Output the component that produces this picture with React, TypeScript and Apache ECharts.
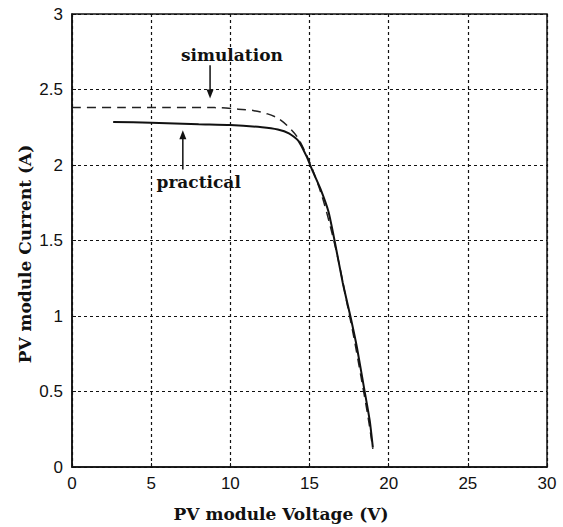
import React, { useEffect, useRef } from "react";
import * as echarts from "echarts";

// I–V characteristic of the PV module
const simVoltage = [0, 3, 6, 9, 10.5, 11.5, 12.3, 13, 13.6, 14.2, 14.8, 15.3, 15.8, 16.3, 16.8, 17.3, 17.8, 18.3, 18.7, 19.0];
const simCurrent = [2.38, 2.38, 2.38, 2.38, 2.37, 2.36, 2.34, 2.31, 2.26, 2.19, 2.07, 1.94, 1.79, 1.6, 1.38, 1.12, 0.86, 0.57, 0.33, 0.12];

const pracVoltage = [2.6, 5, 8, 10, 12, 13, 13.7, 14.3, 14.8, 15.2, 15.7, 16.2, 16.6, 17.1, 17.6, 18.0, 18.4, 18.8, 19.0];
const pracCurrent = [2.285, 2.28, 2.27, 2.265, 2.25, 2.235, 2.21, 2.16, 2.06, 1.96, 1.84, 1.69, 1.49, 1.22, 0.99, 0.79, 0.55, 0.31, 0.13];

const xTicks = [0, 5, 10, 15, 20, 25, 30];
const yTicks = [0, 0.5, 1, 1.5, 2, 2.5, 3];

// annotation anchors in data units: [x, y]
const simLabelAt = [10.1, 2.73];
const simArrow = [[8.72, 2.66], [8.72, 2.44]];
const pracLabelAt = [8.0, 1.89];
const pracArrow = [[7.0, 1.97], [7.0, 2.23]];

const serif = "'DejaVu Serif', 'Liberation Serif', serif";
const sans = "'Liberation Sans', Arial, sans-serif";

function arrowGraphics(chart: echarts.ECharts, from: number[], to: number[]) {
  const p0 = chart.convertToPixel({ gridIndex: 0 }, from) as number[];
  const p1 = chart.convertToPixel({ gridIndex: 0 }, to) as number[];
  const dir = p1[1] > p0[1] ? 1 : -1;
  const head = 9;
  return [
    {
      type: "line",
      shape: { x1: p0[0], y1: p0[1], x2: p1[0], y2: p1[1] - dir * head * 0.6 },
      style: { stroke: "#111", lineWidth: 1.5 },
      z: 10,
    },
    {
      type: "polygon",
      shape: {
        points: [
          [p1[0], p1[1]],
          [p1[0] - 3.5, p1[1] - dir * head],
          [p1[0] + 3.5, p1[1] - dir * head],
        ],
      },
      style: { fill: "#111" },
      z: 10,
    },
  ];
}

export default function App() {
  const ref = useRef<HTMLDivElement>(null);

  useEffect(() => {
    if (!ref.current) return;
    const chart = echarts.init(ref.current, undefined, { renderer: "svg" });

    const gridLine = { show: true, lineStyle: { color: "#111", type: [3, 3] as number[], width: 1.2 } };

    chart.setOption({
      animation: false,
      backgroundColor: "#fff",
      grid: { left: 72, top: 14, right: 16, bottom: 60, containLabel: false },
      xAxis: {
        type: "value",
        min: 0,
        max: 30,
        interval: 5,
        axisLine: { show: true, lineStyle: { color: "#111", width: 1.5 } },
        axisTick: { show: true, inside: true, length: 4, lineStyle: { color: "#111" } },
        axisLabel: {
          fontFamily: sans,
          fontSize: 17,
          color: "#111",
          margin: 8,
          formatter: (v: number) => (xTicks.includes(v) ? String(v) : ""),
        },
        splitLine: gridLine,
      },
      yAxis: {
        type: "value",
        min: 0,
        max: 3,
        interval: 0.5,
        axisLine: { show: true, lineStyle: { color: "#111", width: 1.5 } },
        axisTick: { show: true, inside: true, length: 4, lineStyle: { color: "#111" } },
        axisLabel: {
          fontFamily: sans,
          fontSize: 17,
          color: "#111",
          margin: 9,
          formatter: (v: number) => (yTicks.includes(v) ? String(v) : ""),
        },
        splitLine: gridLine,
      },
      series: [
        {
          name: "simulation",
          type: "line",
          smooth: 0.3,
          showSymbol: false,
          data: simVoltage.map((v, i) => [v, simCurrent[i]]),
          lineStyle: { color: "#222", width: 1.5, type: [9, 6] },
          z: 3,
        },
        {
          name: "practical",
          type: "line",
          smooth: 0.2,
          showSymbol: false,
          data: pracVoltage.map((v, i) => [v, pracCurrent[i]]),
          lineStyle: { color: "#111", width: 2 },
          z: 4,
        },
      ],
    });

    const simText = chart.convertToPixel({ gridIndex: 0 }, simLabelAt) as number[];
    const pracText = chart.convertToPixel({ gridIndex: 0 }, pracLabelAt) as number[];
    const titleFont = `bold 17px ${serif}`;

    chart.setOption({
      graphic: [
        // outer frame of the plotting area
        {
          type: "rect",
          shape: { x: 72, y: 14, width: 475, height: 453 },
          style: { fill: "none", stroke: "#111", lineWidth: 1.5 },
          z: 5,
          silent: true,
        },
        // axis titles
        {
          type: "text",
          x: 281,
          y: 514,
          style: {
            text: "PV module Voltage (V)",
            font: titleFont,
            fill: "#111",
            align: "center",
            verticalAlign: "middle",
          },
        },
        {
          type: "text",
          x: 25,
          y: 254,
          rotation: Math.PI / 2,
          style: {
            text: "PV module Current (A)",
            font: titleFont,
            fill: "#111",
            align: "center",
            verticalAlign: "middle",
          },
        },
        {
          type: "text",
          x: simText[0],
          y: simText[1],
          style: {
            text: "simulation",
            font: titleFont,
            fill: "#111",
            align: "center",
            verticalAlign: "middle",
          },
          z: 10,
        },
        {
          type: "text",
          x: pracText[0],
          y: pracText[1],
          style: {
            text: "practical",
            font: titleFont,
            fill: "#111",
            align: "center",
            verticalAlign: "middle",
          },
          z: 10,
        },
        ...arrowGraphics(chart, simArrow[0], simArrow[1]),
        ...arrowGraphics(chart, pracArrow[0], pracArrow[1]),
      ],
    });

    return () => chart.dispose();
  }, []);

  return (
    <div
      ref={ref}
      style={{ position: "absolute", left: 0, top: 0, width: 563, height: 527 }}
    />
  );
}
